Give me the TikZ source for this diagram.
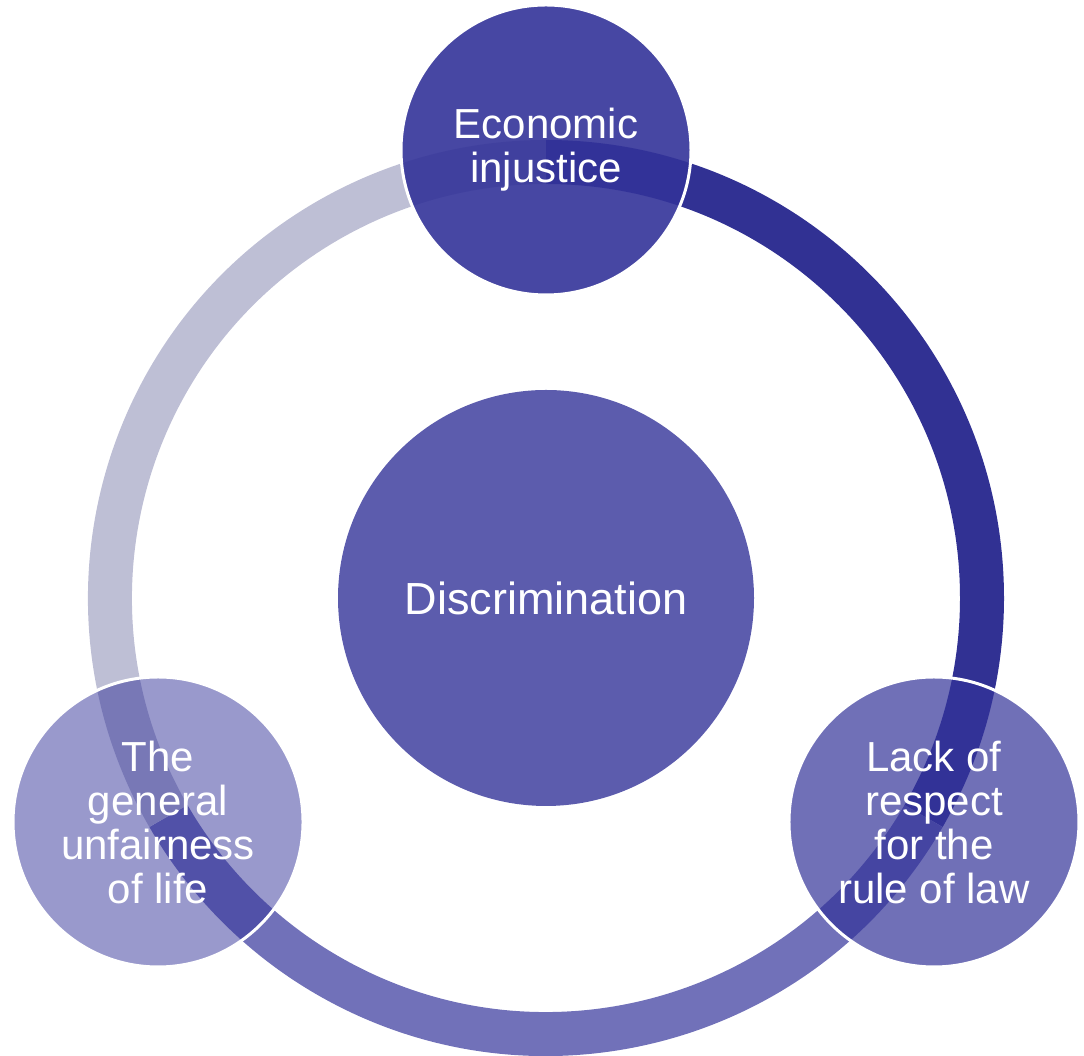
\documentclass[tikz,border=0pt]{standalone}
\usepackage{fontspec}
\setmainfont{Liberation Sans}
\usetikzlibrary{calc}
\definecolor{arcdark}{RGB}{49,49,147}
\definecolor{arcmid}{RGB}{113,113,185}
\definecolor{arclight}{RGB}{190,191,213}
\definecolor{basec}{RGB}{51,51,153}
\begin{document}
\begin{tikzpicture}[x=1pt,y=1pt,
  ringarc/.style={line width=44pt},
  satellite/.style={circle,minimum size=290pt,inner sep=0pt,draw=white,line width=3pt,
     fill=basec,text=white,align=center,font=\fontsize{42}{44}\selectfont},
  hub/.style={circle,minimum size=416pt,inner sep=0pt,draw=none,
     fill=basec,fill opacity=0.8,text opacity=1,text=white,font=\fontsize{45}{50}\selectfont}]
\useasboundingbox (0,0) rectangle (1084,1056);
\coordinate (c) at (546,458);
% ring arcs (from circle centre to circle centre)
\draw[ringarc,arcdark] ($(c)+(90:436)$) arc[start angle=90,end angle=-30,radius=436];
\draw[ringarc,arcmid] ($(c)+(-30:436)$) arc[start angle=-30,end angle=-150,radius=436];
\draw[ringarc,arclight] ($(c)+(210:436)$) arc[start angle=210,end angle=90,radius=436];
% hub
\node[hub] (hubn) at (c) {Discrimination};
% satellites
\node[satellite,fill opacity=0.9,text opacity=1,draw opacity=1] (top) at ($(c)+(90:448)$) {Economic\\injustice};
\node[satellite,fill opacity=0.7,text opacity=1,draw opacity=1] (right) at ($(c)+(-30:448)$) {Lack of\\respect\\for the\\rule of law};
\node[satellite,fill opacity=0.5,text opacity=1,draw opacity=1] (left) at ($(c)+(210:448)$) {The\\general\\unfairness\\of life};
\end{tikzpicture}
\end{document}
